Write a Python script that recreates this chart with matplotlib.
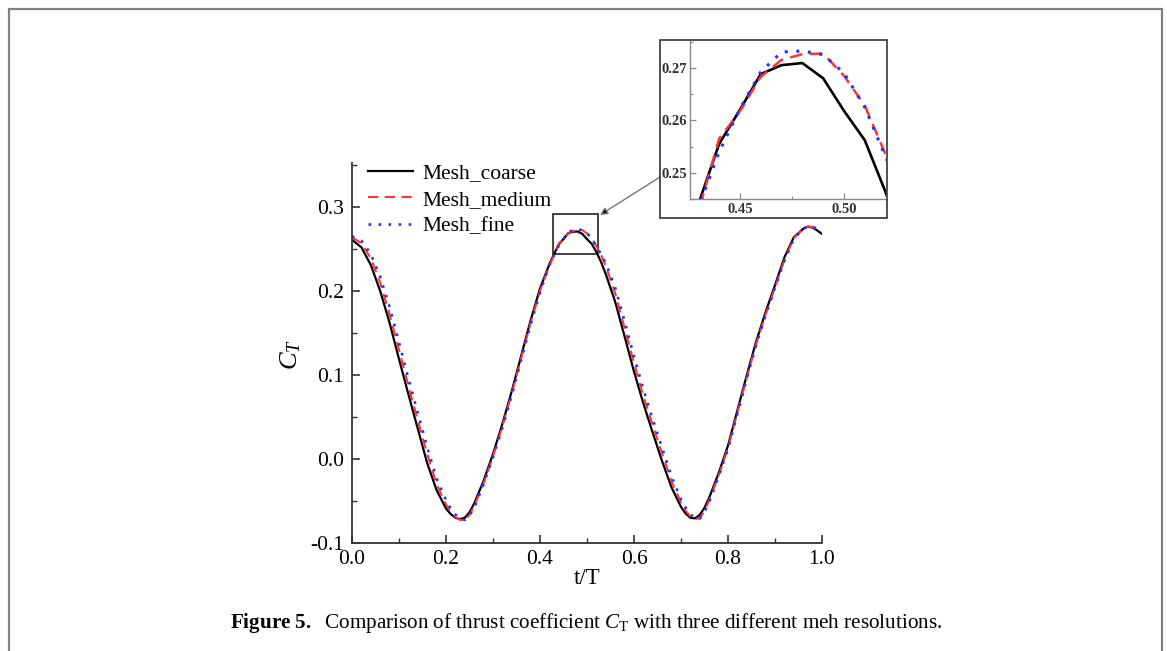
import matplotlib
matplotlib.use('Agg')
import matplotlib.pyplot as plt
from matplotlib.patches import Rectangle
from matplotlib.ticker import FixedLocator, MultipleLocator, FormatStrFormatter

plt.rcParams['font.family'] = ['Liberation Serif', 'DejaVu Serif']
plt.rcParams['mathtext.fontset'] = 'custom'
plt.rcParams['mathtext.rm'] = 'Liberation Serif'
plt.rcParams['mathtext.it'] = 'Liberation Serif:italic'
plt.rcParams['mathtext.bf'] = 'Liberation Serif:bold'
plt.rcParams['axes.unicode_minus'] = False

# ---------------- data ----------------
t = [0.00, 0.02, 0.04, 0.06, 0.08, 0.10, 0.12, 0.14, 0.16, 0.18,
     0.20, 0.21, 0.22, 0.23, 0.24, 0.25, 0.26, 0.28, 0.30, 0.32, 0.34, 0.36, 0.38, 0.40, 0.42,
     0.43, 0.44, 0.45, 0.46, 0.47, 0.48, 0.49, 0.50, 0.51, 0.52, 0.53, 0.54,
     0.56, 0.58, 0.60, 0.62, 0.64, 0.66, 0.68,
     0.70, 0.71, 0.72, 0.73, 0.74, 0.75, 0.76, 0.78,
     0.80, 0.82, 0.84, 0.86, 0.88, 0.90, 0.92, 0.94, 0.96, 0.97, 0.98, 0.99, 1.00]

ct_coarse = [0.261, 0.252, 0.231, 0.200, 0.162, 0.119, 0.077, 0.036, -0.005, -0.037,
             -0.059, -0.0655, -0.0700, -0.0716, -0.0700, -0.0635, -0.053, -0.026, 0.006, 0.042,
             0.081, 0.123, 0.165, 0.203, 0.232,
             0.2440, 0.2555, 0.2620, 0.2688, 0.2705, 0.2709, 0.2680, 0.2618, 0.2562, 0.2463, 0.2345, 0.2200,
             0.187, 0.146, 0.104, 0.066, 0.031, -0.003, -0.034,
             -0.057, -0.0650, -0.0700, -0.0707, -0.0665, -0.058, -0.046, -0.017,
             0.016, 0.058, 0.100, 0.140, 0.175, 0.207, 0.240, 0.264, 0.2740, 0.2766, 0.2755, 0.2720, 0.268]

ct_medium = [0.264, 0.257, 0.239, 0.210, 0.172, 0.130, 0.087, 0.046, 0.006, -0.030,
             -0.054, -0.063, -0.069, -0.0725, -0.0730, -0.0665, -0.056, -0.029, 0.003, 0.039,
             0.078, 0.120, 0.162, 0.200, 0.230,
             0.2425, 0.2565, 0.2617, 0.2683, 0.2715, 0.2726, 0.2727, 0.2685, 0.2628, 0.2535, 0.2430, 0.2300,
             0.197, 0.156, 0.114, 0.075, 0.040, 0.006, -0.027,
             -0.052, -0.0615, -0.0685, -0.0715, -0.0705, -0.062, -0.049, -0.020,
             0.013, 0.055, 0.097, 0.137, 0.172, 0.204, 0.237, 0.263, 0.2745, 0.2768, 0.2762, 0.2735, 0.270]

ct_fine = [0.265, 0.260, 0.244, 0.217, 0.181, 0.139, 0.096, 0.055, 0.014, -0.023,
           -0.049, -0.059, -0.066, -0.0712, -0.0725, -0.067, -0.058, -0.030, 0.002, 0.037,
           0.076, 0.118, 0.160, 0.198, 0.231,
           0.2432, 0.2540, 0.2622, 0.2692, 0.2730, 0.2732, 0.2725, 0.2690, 0.2625, 0.2530, 0.2440, 0.2330,
           0.204, 0.164, 0.122, 0.083, 0.047, 0.013, -0.021,
           -0.048, -0.058, -0.066, -0.0705, -0.071, -0.063, -0.051, -0.021,
           0.012, 0.054, 0.096, 0.136, 0.171, 0.204, 0.236, 0.262, 0.2745, 0.2768, 0.2765, 0.2740, 0.271]

labels = ['Mesh_coarse', 'Mesh_medium', 'Mesh_fine']
x_ticks = [0.0, 0.2, 0.4, 0.6, 0.8, 1.0]
y_ticks = [-0.1, 0.0, 0.1, 0.2, 0.3]
inset_x_ticks = [0.45, 0.50]
inset_y_ticks = [0.25, 0.26, 0.27]
caption = (r"$\mathbf{Figure\ 5.}$  Comparison of thrust coefficient $C_{\mathrm{T}}$"
           r" with three different meh resolutions.")

# ---------------- layout helpers ----------------
W, H = 1167, 651
fig = plt.figure(figsize=(W / 100, H / 100), dpi=100)


def fx(px):
    return px / W


def fy(py):
    return 1 - py / H


styles = [dict(color='black', lw=1.6, ls='-'),
          dict(color='#ff3333', lw=1.5, ls=(0, (5, 3))),
          dict(color='#2233ff', lw=1.9, ls=(0, (1, 2.8)))]
series = [ct_coarse, ct_medium, ct_fine]

# ---------------- main axes ----------------
ax = fig.add_axes([fx(352), fy(543), fx(822) - fx(352), fy(163) - fy(543)])
for ys, lab, st in zip(series, labels, styles):
    ax.plot(t, ys, label=lab, **st)
ax.set_xlim(0, 1)
ax.set_ylim(-0.1, 0.3524)
for s in ['top', 'right']:
    ax.spines[s].set_visible(False)
for s in ['left', 'bottom']:
    ax.spines[s].set_color('#333333')
    ax.spines[s].set_linewidth(1.3)
ax.xaxis.set_major_locator(FixedLocator(x_ticks))
ax.yaxis.set_major_locator(FixedLocator(y_ticks))
ax.xaxis.set_minor_locator(MultipleLocator(0.1))
ax.yaxis.set_minor_locator(MultipleLocator(0.05))
ax.xaxis.set_major_formatter(FormatStrFormatter('%.1f'))
ax.yaxis.set_major_formatter(FormatStrFormatter('%.1f'))
ax.tick_params(which='major', direction='in', length=6, width=1.2, color='#333333',
               labelsize=15.5)
ax.tick_params(which='minor', direction='in', length=3.5, width=1.0, color='#333333')
ax.tick_params(axis='x', pad=5)
ax.tick_params(axis='y', pad=6)

ax.add_patch(Rectangle((0.428, 0.244), 0.095, 0.048, fill=False, ec='#222222', lw=1.2))

leg = ax.legend(loc='upper left', bbox_to_anchor=(fx(368), fy(163)), bbox_transform=fig.transFigure,
                frameon=False, handlelength=2.1, handletextpad=0.45, labelspacing=0.3,
                borderpad=0, borderaxespad=0, fontsize=15.5)

fig.text(fx(587), fy(578), 't/T', ha='center', va='center', fontsize=16.5)
fig.text(fx(291), fy(355), r'$C_T$', ha='center', va='center', fontsize=19, rotation=90)

# ---------------- inset ----------------
axi = fig.add_axes([fx(690), fy(199), fx(886) - fx(690), fy(41) - fy(199)])
for ys, st in zip(series, styles):
    axi.plot(t, ys, **{**st, 'lw': st['lw'] + 0.3})
axi.set_xlim(0.426, 0.5202)
axi.set_ylim(0.245, 0.2751)
for s in ['top', 'right']:
    axi.spines[s].set_visible(False)
for s in ['left', 'bottom']:
    axi.spines[s].set_color('#888888')
    axi.spines[s].set_linewidth(1.0)
axi.xaxis.set_major_locator(FixedLocator(inset_x_ticks))
axi.yaxis.set_major_locator(FixedLocator(inset_y_ticks))
axi.xaxis.set_minor_locator(MultipleLocator(0.025))
axi.yaxis.set_minor_locator(MultipleLocator(0.005))
axi.xaxis.set_major_formatter(FormatStrFormatter('%.2f'))
axi.yaxis.set_major_formatter(FormatStrFormatter('%.2f'))
axi.tick_params(which='major', direction='in', length=4, width=0.9, color='#888888',
                labelsize=10.5, pad=3)
axi.tick_params(which='minor', direction='in', length=2.5, width=0.8, color='#888888')
axi.tick_params(axis='y', pad=2)
for lbl in axi.get_xticklabels() + axi.get_yticklabels():
    lbl.set_fontweight('bold')
    lbl.set_color('#333333')

fig.add_artist(Rectangle((fx(660), fy(218)), fx(887) - fx(660), fy(40) - fy(218),
                         transform=fig.transFigure, fill=False, ec='#333333', lw=1.2))

ax.annotate('', xy=(600, H - 215), xycoords='figure pixels',
            xytext=(660, H - 177), textcoords='figure pixels',
            arrowprops=dict(arrowstyle='-|>', ec='#777777', fc='black', lw=1.0,
                            shrinkA=0, shrinkB=0, mutation_scale=11))

# ---------------- caption & frame ----------------
fig.text(fx(586), fy(623), caption, ha='center', va='center', fontsize=15.2)
fig.add_artist(Rectangle((fx(8.5), -0.1), fx(1161.5) - fx(8.5), fy(8.5) + 0.1,
                         transform=fig.transFigure, fill=False, ec='#808080', lw=1.6,
                         clip_on=False))

fig.savefig('out.png', dpi=100)
